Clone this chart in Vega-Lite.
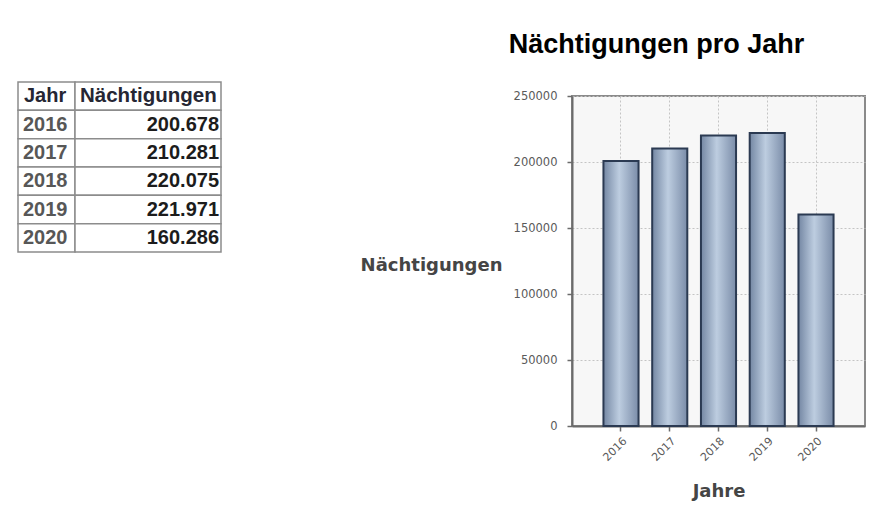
{
  "$schema": "https://vega.github.io/schema/vega-lite/v6.json",
  "padding": {"left": 17, "top": 29, "right": 0, "bottom": 0},
  "background": "#ffffff",
  "datasets": {
    "tabelle": [
      {"zeile": "Kopf", "spalte": "Jahr", "text": "Jahr"},
      {"zeile": "Kopf", "spalte": "Nächtigungen", "text": "Nächtigungen"},
      {"zeile": "2016", "spalte": "Jahr", "text": "2016"},
      {"zeile": "2016", "spalte": "Nächtigungen", "text": "200.678"},
      {"zeile": "2017", "spalte": "Jahr", "text": "2017"},
      {"zeile": "2017", "spalte": "Nächtigungen", "text": "210.281"},
      {"zeile": "2018", "spalte": "Jahr", "text": "2018"},
      {"zeile": "2018", "spalte": "Nächtigungen", "text": "220.075"},
      {"zeile": "2019", "spalte": "Jahr", "text": "2019"},
      {"zeile": "2019", "spalte": "Nächtigungen", "text": "221.971"},
      {"zeile": "2020", "spalte": "Jahr", "text": "2020"},
      {"zeile": "2020", "spalte": "Nächtigungen", "text": "160.286"}
    ],
    "werte": [
      {"jahr": "2016", "naechtigungen": 200678},
      {"jahr": "2017", "naechtigungen": 210281},
      {"jahr": "2018", "naechtigungen": 220075},
      {"jahr": "2019", "naechtigungen": 221971},
      {"jahr": "2020", "naechtigungen": 160286}
    ],
    "leer": []
  },
  "spacing": 137,
  "hconcat": [
    {
      "spacing": 0,
      "bounds": "flush",
      "hconcat": [
        {
          "width": 57,
          "height": 223,
          "view": {"stroke": null},
          "data": {"name": "tabelle"},
          "transform": [{"filter": "datum.spalte === 'Jahr'"}],
          "encoding": {
            "y": {"field": "zeile", "type": "ordinal", "axis": null, "sort": null,
                  "scale": {"domain": ["Kopf", "2016", "2017", "2018", "2019", "2020"], "paddingInner": 0, "paddingOuter": 0.936, "align": 1}},
            "x": {"field": "spalte", "type": "nominal", "axis": null, "scale": {"paddingInner": 0, "paddingOuter": 0}}
          },
          "layer": [
            {"mark": {"type": "rect", "fill": "#ffffff", "stroke": "#8c8c8c", "strokeWidth": 1.5}},
            {
              "transform": [{"filter": "datum.zeile !== 'Kopf'"}],
              "mark": {"type": "text", "align": "left", "dx": 5, "font": "Liberation Sans", "fontWeight": "bold", "fontSize": 20, "color": "#575757"},
              "encoding": {"text": {"field": "text"}, "x": {"field": "spalte", "type": "nominal", "bandPosition": 0}}
            },
            {
              "transform": [{"filter": "datum.zeile === 'Kopf'"}],
              "mark": {"type": "text", "align": "left", "dx": 6, "font": "Liberation Sans", "fontWeight": "bold", "fontSize": 20, "color": "#262633"},
              "encoding": {"text": {"field": "text"}, "x": {"field": "spalte", "type": "nominal", "bandPosition": 0}}
            }
          ]
        },
        {
          "width": 146,
          "height": 223,
          "view": {"stroke": null},
          "data": {"name": "tabelle"},
          "transform": [{"filter": "datum.spalte !== 'Jahr'"}],
          "encoding": {
            "y": {"field": "zeile", "type": "ordinal", "axis": null, "sort": null,
                  "scale": {"domain": ["Kopf", "2016", "2017", "2018", "2019", "2020"], "paddingInner": 0, "paddingOuter": 0.936, "align": 1}},
            "x": {"field": "spalte", "type": "nominal", "axis": null, "scale": {"paddingInner": 0, "paddingOuter": 0}}
          },
          "layer": [
            {"mark": {"type": "rect", "fill": "#ffffff", "stroke": "#8c8c8c", "strokeWidth": 1.5}},
            {
              "transform": [{"filter": "datum.zeile !== 'Kopf'"}],
              "mark": {"type": "text", "align": "right", "dx": -2, "font": "Liberation Sans", "fontWeight": "bold", "fontSize": 20, "color": "#1c1c1c"},
              "encoding": {"text": {"field": "text"}, "x": {"field": "spalte", "type": "nominal", "bandPosition": 1}}
            },
            {
              "transform": [{"filter": "datum.zeile === 'Kopf'"}],
              "mark": {"type": "text", "align": "left", "dx": 5, "font": "Liberation Sans", "fontWeight": "bold", "fontSize": 20.5, "color": "#262633"},
              "encoding": {"text": {"field": "text"}, "x": {"field": "spalte", "type": "nominal", "bandPosition": 0}}
            }
          ]
        }
      ]
    },
    {
      "spacing": 0,
      "vconcat": [
        {
          "width": 293,
          "height": 1,
          "view": {"stroke": null},
          "data": {"name": "leer"},
          "mark": {"type": "point", "opacity": 0}
        },
        {
          "width": 293,
          "height": 330,
          "view": {"stroke": "#8a8a8a", "strokeWidth": 2, "fill": "#f7f7f7"},
          "data": {"name": "werte"},
          "title": {"text": "Nächtigungen pro Jahr", "font": "Liberation Sans", "fontSize": 27, "fontWeight": "bold", "color": "#000000", "anchor": "middle", "frame": "group", "dx": -62, "baseline": "alphabetic", "offset": 10},
          "mark": {
            "type": "bar",
            "color": {"gradient": "linear", "x1": 0, "x2": 1, "y1": 0, "y2": 0,
                      "stops": [{"offset": 0, "color": "#7487a3"}, {"offset": 0.45, "color": "#bdcde0"}, {"offset": 1, "color": "#7a8ca8"}]},
            "stroke": "#2b3a52",
            "strokeWidth": 2
          },
          "encoding": {
            "x": {
              "field": "jahr", "type": "ordinal",
              "scale": {"paddingInner": 0.28, "paddingOuter": 0.645},
              "axis": {"title": "Jahre", "labelAngle": -45, "grid": true, "titlePadding": 20}
            },
            "y": {
              "field": "naechtigungen", "type": "quantitative",
              "scale": {"domain": [0, 250000], "nice": false},
              "axis": {"values": [0, 50000, 100000, 150000, 200000, 250000], "format": "d", "title": "Nächtigungen",
                       "labelFontSize": 11.5, "labelPadding": 10,
                       "titleAngle": 0, "titleAlign": "right", "titleBaseline": "middle", "titleX": -70, "titleY": 169}
            }
          }
        }
      ]
    }
  ],
  "config": {
    "axis": {
      "labelFont": "DejaVu Sans", "labelFontSize": 11, "labelColor": "#5a5a5a",
      "titleFont": "DejaVu Sans", "titleFontSize": 18, "titleFontWeight": "bold", "titleColor": "#454545",
      "domainColor": "#6b6b6b", "domainWidth": 2,
      "tickColor": "#6b6b6b", "tickSize": 5, "tickWidth": 1.5, "labelPadding": 4,
      "gridColor": "#c4c4c4", "gridDash": [2, 2], "gridWidth": 1
    }
  }
}
